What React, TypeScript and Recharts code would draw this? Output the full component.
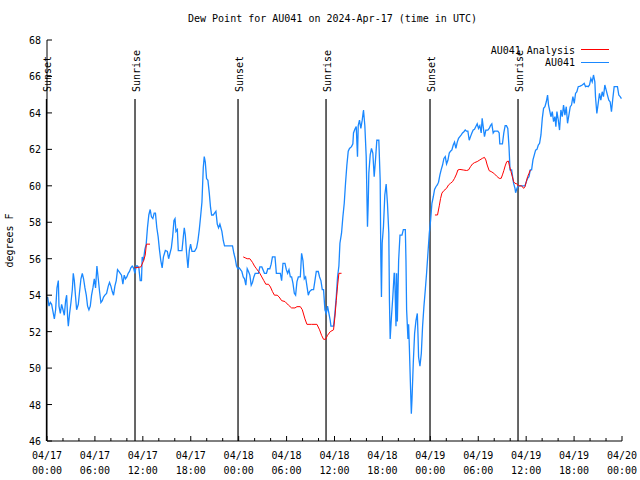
import React from 'react';
import { LineChart, Line, XAxis, YAxis, ReferenceLine, Legend } from 'recharts';

const FONT = '"DejaVu Sans Mono", "Liberation Mono", monospace';

const chartTitle = 'Dew Point for AU041 on 2024-Apr-17 (time in UTC)';
const yAxisTitle = 'degrees F';
const seriesNames = ['AU041 Analysis', 'AU041'];
const seriesColors = ['#ff0000', '#1a88ff'];

// hours since 2024-04-17 00:00 UTC
const xTicks = [0, 2, 4, 6, 8, 10, 12, 14, 16, 18, 20, 22, 24, 26, 28, 30, 32, 34, 36, 38, 40, 42, 44, 46, 48, 50, 52, 54, 56, 58, 60, 62, 64, 66, 68, 70, 72];
const xTickDates = ['04/17', '04/17', '04/17', '04/17', '04/18', '04/18', '04/18', '04/18', '04/19', '04/19', '04/19', '04/19', '04/20'];
const xTickTimes = ['00:00', '06:00', '12:00', '18:00', '00:00', '06:00', '12:00', '18:00', '00:00', '06:00', '12:00', '18:00', '00:00'];
const yTicks = [46, 48, 50, 52, 54, 56, 58, 60, 62, 64, 66, 68];

const sunHours = [-0.07, 11.02, 23.92, 34.94, 47.96, 58.98];
const sunLabels = ['Sunset', 'Sunrise', 'Sunset', 'Sunrise', 'Sunset', 'Sunrise'];

// AU041 observations [hour, dew point F]
const au041Obs: [number, number][] = [
  [0.08, 53.9], [0.25, 53.4], [0.42, 53.6], [0.58, 53.5], [0.79, 53.0], [0.92, 52.7], [1.08, 53.2], [1.25, 54.4], [1.42, 54.8], [1.5, 53.4],
  [1.67, 53.0], [1.83, 53.5], [2.0, 53.2], [2.17, 52.9], [2.33, 53.7], [2.46, 54.0], [2.58, 52.8], [2.67, 52.3], [2.83, 53.0], [3.0, 53.6],
  [3.17, 54.3], [3.29, 55.2], [3.42, 54.8], [3.58, 53.9], [3.71, 53.2], [3.92, 53.5], [4.08, 54.2], [4.25, 54.9], [4.42, 55.2], [4.58, 54.9],
  [4.75, 54.4], [4.92, 54.0], [5.08, 53.4], [5.25, 53.2], [5.42, 53.4], [5.58, 54.0], [5.75, 54.4], [5.92, 54.9], [6.08, 54.4], [6.25, 55.6],
  [6.42, 54.9], [6.58, 54.2], [6.75, 53.6], [6.92, 53.7], [7.08, 53.9], [7.25, 54.0], [7.46, 54.1], [7.67, 54.5], [7.83, 54.7], [8.0, 54.5],
  [8.17, 54.2], [8.33, 54.0], [8.5, 54.5], [8.67, 54.8], [8.83, 55.4], [9.0, 55.3], [9.17, 55.2], [9.33, 55.1], [9.5, 54.6], [9.67, 55.1],
  [9.83, 54.9], [10.0, 55.0], [10.17, 55.2], [10.33, 55.3], [10.5, 55.5], [10.67, 55.6], [10.83, 55.5], [11.0, 55.2], [11.17, 55.6], [11.33, 55.6],
  [11.5, 55.5], [11.67, 54.8], [11.83, 54.8], [11.92, 56.1], [12.08, 55.9], [12.25, 56.5], [12.42, 56.8], [12.58, 57.7], [12.75, 58.4], [12.92, 58.7],
  [13.08, 58.3], [13.25, 58.2], [13.42, 58.5], [13.58, 58.5], [13.75, 57.7], [13.92, 57.2], [14.08, 56.5], [14.25, 55.9], [14.42, 55.5], [14.58, 56.1],
  [14.82, 56.45], [15.07, 56.4], [15.23, 56.0], [15.4, 56.3], [15.57, 56.6], [15.73, 57.2], [15.9, 58.1], [16.03, 58.2], [16.15, 57.5], [16.32, 57.6],
  [16.44, 56.45], [16.65, 56.45], [16.9, 56.45], [17.07, 57.2], [17.19, 57.7], [17.32, 57.3], [17.48, 56.3], [17.65, 55.5], [17.82, 56.45], [17.98, 56.8],
  [18.15, 56.4], [18.48, 56.4], [18.73, 56.6], [18.9, 57.0], [19.07, 57.6], [19.23, 58.3], [19.4, 59.1], [19.57, 61.0], [19.69, 61.6], [19.82, 61.3],
  [19.98, 60.4], [20.15, 60.3], [20.32, 59.6], [20.48, 58.8], [20.61, 58.4], [20.82, 58.4], [20.98, 58.5], [21.15, 58.6], [21.32, 57.9], [21.48, 57.7],
  [21.65, 57.9], [21.9, 57.5], [22.07, 57.0], [22.23, 56.7], [23.23, 56.7], [23.4, 56.3], [23.57, 56.0], [23.73, 55.6], [23.9, 55.45], [24.07, 55.5],
  [24.23, 55.4], [24.4, 55.3], [24.57, 55.0], [24.73, 54.9], [24.9, 54.55], [25.07, 55.45], [25.23, 55.3], [25.4, 55.1], [25.57, 54.55], [25.73, 54.7],
  [25.9, 55.0], [26.07, 55.2], [26.48, 55.2], [26.65, 55.55], [26.9, 55.55], [27.23, 55.2], [27.48, 55.2], [27.65, 55.45], [27.9, 55.45], [28.07, 55.7],
  [28.23, 56.1], [28.55, 56.1], [28.72, 55.2], [29.22, 55.2], [29.38, 54.8], [29.55, 55.75], [29.8, 55.75], [29.97, 55.4], [30.13, 55.2], [30.3, 55.4],
  [30.47, 55.0], [30.63, 55.0], [30.8, 54.65], [30.97, 54.1], [31.13, 54.0], [31.3, 54.75], [31.47, 55.0], [31.72, 55.0], [31.88, 56.3], [32.05, 55.9],
  [32.22, 54.9], [32.38, 55.0], [32.55, 54.5], [32.72, 54.0], [32.88, 54.2], [33.13, 54.3], [33.38, 54.3], [33.55, 54.8], [33.72, 55.3], [33.97, 55.3],
  [34.13, 55.0], [34.3, 54.8], [34.47, 54.3], [34.63, 54.3], [34.8, 53.2], [34.97, 53.0], [35.13, 53.4], [35.3, 53.0], [35.47, 52.6], [35.55, 52.3],
  [35.88, 52.3], [36.05, 53.0], [36.22, 53.9], [36.38, 55.0], [36.55, 55.6], [36.68, 56.85], [36.88, 57.4], [37.05, 58.3], [37.22, 59.04], [37.38, 60.14],
  [37.55, 61.14], [37.72, 61.9], [37.88, 62.05], [38.13, 62.15], [38.3, 62.3], [38.38, 62.9], [38.55, 63.1], [38.72, 63.25], [38.88, 61.6], [38.97, 63.3],
  [39.13, 63.6], [39.3, 63.15], [39.47, 63.6], [39.63, 64.16], [39.8, 63.3], [39.97, 61.6], [40.13, 57.76], [40.22, 59.0], [40.3, 60.7], [40.47, 61.7],
  [40.63, 62.05], [40.8, 61.8], [40.97, 60.5], [41.13, 61.4], [41.3, 62.5], [41.55, 62.5], [41.72, 60.3], [41.8, 56.1], [41.88, 53.9], [41.97, 56.85],
  [42.13, 57.76], [42.3, 59.5], [42.47, 60.1], [42.63, 59.04], [42.8, 57.4], [42.88, 53.7], [42.97, 51.6], [43.13, 52.8], [43.3, 53.9], [43.47, 55.2],
  [43.53, 55.2], [43.7, 52.3], [43.78, 55.2], [43.87, 52.55], [44.03, 55.9], [44.2, 57.3], [44.45, 57.3], [44.62, 57.6], [44.87, 57.6], [44.95, 55.9],
  [45.03, 53.2], [45.2, 51.6], [45.28, 52.4], [45.37, 51.2], [45.53, 48.8], [45.62, 47.5], [45.7, 48.25], [45.87, 50.35], [46.03, 51.9], [46.2, 52.6],
  [46.37, 53.0], [46.45, 51.9], [46.53, 50.6], [46.7, 50.1], [46.87, 50.8], [47.03, 52.3], [47.2, 53.4], [47.37, 54.3], [47.53, 55.2], [47.7, 56.3],
  [47.87, 57.4], [48.03, 58.1], [48.2, 59.04], [48.37, 59.4], [48.53, 59.8], [48.7, 59.95], [48.87, 60.05], [49.03, 60.2], [49.2, 60.6], [49.37, 60.9],
  [49.53, 61.14], [49.7, 61.5], [49.87, 61.6], [50.03, 61.2], [50.2, 61.4], [50.37, 61.8], [50.53, 61.9], [50.7, 61.97], [50.87, 62.24], [51.03, 62.4],
  [51.2, 62.06], [51.37, 62.4], [51.53, 62.6], [51.7, 62.7], [51.87, 62.8], [52.03, 62.9], [52.2, 62.97], [52.37, 63.06], [52.53, 63.0], [52.7, 63.0],
  [52.87, 62.5], [53.03, 62.7], [53.2, 62.9], [53.37, 63.06], [53.53, 63.1], [53.7, 63.25], [53.87, 63.4], [54.03, 63.15], [54.2, 63.3], [54.37, 62.9],
  [54.49, 63.7], [54.62, 63.25], [54.78, 62.7], [54.95, 63.06], [55.2, 63.06], [55.37, 63.15], [55.53, 63.3], [55.7, 63.4], [55.87, 62.9], [56.03, 63.0],
  [56.2, 63.0], [56.45, 63.0], [56.62, 62.9], [56.7, 62.3], [57.03, 62.3], [57.2, 62.9], [57.37, 63.3], [57.53, 63.3], [57.7, 63.15], [57.85, 62.15],
  [57.98, 60.87], [58.18, 60.87], [58.27, 60.6], [58.43, 60.13], [58.6, 59.86], [58.68, 59.62], [58.85, 59.86], [59.02, 60.0], [59.35, 60.0], [59.85, 60.0],
  [60.02, 60.23], [60.18, 60.41], [60.35, 60.5], [60.52, 60.87], [60.68, 60.87], [60.85, 61.42], [61.02, 61.7], [61.18, 61.96], [61.35, 62.0], [61.52, 62.24],
  [61.68, 62.33], [61.85, 62.79], [62.02, 63.7], [62.18, 64.25], [62.35, 64.34], [62.52, 64.61], [62.68, 64.98], [62.8, 64.43], [62.93, 64.16], [63.1, 63.79],
  [63.27, 64.07], [63.43, 63.52], [63.6, 63.8], [63.72, 63.24], [63.85, 64.07], [64.02, 63.61], [64.18, 63.06], [64.35, 64.16], [64.52, 63.8], [64.68, 64.43],
  [64.85, 63.88], [65.02, 64.34], [65.18, 63.43], [65.35, 63.88], [65.52, 64.34], [65.68, 64.43], [65.85, 64.89], [66.02, 64.52], [66.18, 65.07], [66.35, 65.16],
  [66.52, 65.44], [66.77, 65.47], [67.02, 65.53], [67.27, 65.62], [67.43, 65.44], [67.6, 65.47], [67.77, 65.44], [67.93, 65.53], [68.1, 65.89], [68.27, 65.7],
  [68.43, 66.08], [68.6, 65.7], [68.68, 64.89], [68.85, 63.97], [69.02, 64.52], [69.18, 65.07], [69.35, 64.7], [69.52, 65.16], [69.68, 64.89], [69.85, 65.53],
  [70.02, 65.25], [70.18, 64.98], [70.35, 64.7], [70.52, 64.6], [70.68, 64.07], [70.85, 64.79], [71.02, 65.44], [71.27, 65.44], [71.43, 65.44], [71.6, 64.98],
  [71.77, 64.89], [71.93, 64.79],
];

// AU041 Analysis segments [hour, dew point F]
const analysisSeg1: [number, number][] = [
  [11.0, 55.5], [11.75, 55.55], [11.9, 55.7], [12.1, 55.9], [12.3, 56.2], [12.45, 56.8], [12.9, 56.8],
];
const analysisSeg2: [number, number][] = [
  [24.57, 56.1], [24.82, 56.05], [25.07, 56.0], [25.4, 56.0], [25.73, 55.8], [25.98, 55.6], [26.23, 55.45], [26.48, 55.3], [26.65, 55.2], [26.9, 55.0],
  [27.15, 54.8], [27.4, 54.6], [27.73, 54.6], [27.98, 54.45], [28.23, 54.2], [28.48, 54.0], [28.82, 54.0], [29.07, 53.9], [29.38, 53.7], [29.8, 53.65],
  [30.22, 53.46], [30.63, 53.3], [31.05, 53.3], [31.3, 53.37], [31.72, 53.37], [31.97, 53.2], [32.3, 52.7], [32.55, 52.4], [33.13, 52.4], [33.8, 52.4],
  [34.13, 52.1], [34.38, 51.8], [34.63, 51.58], [34.88, 51.58], [35.13, 51.8], [35.47, 52.0], [35.88, 52.1], [36.05, 52.8], [36.22, 53.7], [36.38, 54.5],
  [36.55, 55.2], [36.88, 55.2],
];
const analysisSeg3: [number, number][] = [
  [48.58, 58.4], [48.9, 58.4], [49.12, 58.9], [49.28, 59.3], [49.45, 59.6], [49.7, 59.74], [50.03, 59.86], [50.28, 60.05], [50.53, 60.14], [50.78, 60.23],
  [51.03, 60.41], [51.28, 60.65], [51.45, 60.87], [51.7, 60.9], [52.12, 60.87], [52.53, 60.84], [52.78, 60.87], [53.03, 61.05], [53.28, 61.2], [53.53, 61.27],
  [53.87, 61.33], [54.2, 61.42], [54.53, 61.51], [54.78, 61.56], [54.95, 61.42], [55.12, 61.14], [55.37, 60.83], [55.62, 60.78], [55.95, 60.69], [56.28, 60.54],
  [56.62, 60.41], [56.87, 60.41], [57.03, 60.6], [57.2, 60.83], [57.37, 61.09], [57.56, 61.32], [57.77, 61.36], [57.93, 61.05], [58.1, 60.78], [58.27, 60.5],
  [58.43, 60.23], [58.6, 60.13], [58.77, 60.13], [59.02, 60.0], [59.43, 60.0], [59.68, 59.86], [59.85, 59.95], [60.02, 60.23], [60.18, 60.5], [60.35, 60.68],
  [60.52, 60.87],
];

const toRows = (pts: [number, number][]) => pts.map(([h, v]) => ({ h, v }));

const BottomTick = (props: any) => {
  const { x, y, payload } = props;
  const h = payload.value as number;
  const major = h % 6 === 0;
  const i = Math.round(h / 6);
  return (
    <g>
      <line x1={x} x2={x} y1={y} y2={y - (major ? 5 : 3)} stroke="#000" />
      {major && (
        <text x={x} y={y + 18} textAnchor="middle" fontFamily={FONT} fontSize={10} fill="#000">{xTickDates[i]}</text>
      )}
      {major && (
        <text x={x} y={y + 33} textAnchor="middle" fontFamily={FONT} fontSize={10} fill="#000">{xTickTimes[i]}</text>
      )}
    </g>
  );
};

const TopTick = (props: any) => {
  const { x, y, payload } = props;
  const major = (payload.value as number) % 6 === 0;
  return <line x1={x} x2={x} y1={y} y2={y + (major ? 5 : 3)} stroke="#000" />;
};

const LeftTick = (props: any) => {
  const { x, y, payload } = props;
  return (
    <g>
      <line x1={x} x2={x + 5} y1={y} y2={y} stroke="#000" />
      <text x={x - 6} y={y + 4} textAnchor="end" fontFamily={FONT} fontSize={10} fill="#000">{payload.value}</text>
    </g>
  );
};

const RightTick = (props: any) => {
  const { x, y } = props;
  return <line x1={x} x2={x - 5} y1={y} y2={y} stroke="#000" />;
};

const YTitle = (props: any) => {
  const vb = props.viewBox || { x: 0, y: 40, width: 47, height: 401 };
  const cx = vb.x + 13;
  const cy = vb.y + vb.height / 2;
  return (
    <text x={cx} y={cy} transform={`rotate(-90 ${cx} ${cy})`} textAnchor="middle" fontFamily={FONT} fontSize={10} fill="#000">
      {yAxisTitle}
    </text>
  );
};

const SunLabel = (props: any) => {
  const vb = props.viewBox || { x: 0, y: 40 };
  const x = vb.x + 5;
  const y = vb.y + 52;
  return (
    <text x={x} y={y} transform={`rotate(-90 ${x} ${y})`} textAnchor="start" fontFamily={FONT} fontSize={10} fill="#000">
      {props.text}
    </text>
  );
};

const SunLine = (props: any) => {
  const top = Math.min(props.y1, props.y2);
  const bottom = Math.max(props.y1, props.y2);
  return <line x1={props.x1} x2={props.x2} y1={top + 59} y2={bottom} stroke="#000" strokeWidth={1.2} />;
};

const LegendBox = () => (
  <svg width={180} height={30} style={{ display: 'block' }}>
    <text x={135} y={13.5} textAnchor="end" fontFamily={FONT} fontSize={10} fill="#000">{seriesNames[0]}</text>
    <line x1={141} x2={169} y1={9.5} y2={9.5} stroke={seriesColors[0]} strokeWidth={1} />
    <text x={135} y={26} textAnchor="end" fontFamily={FONT} fontSize={10} fill="#000">{seriesNames[1]}</text>
    <line x1={141} x2={169} y1={22.5} y2={22.5} stroke={seriesColors[1]} strokeWidth={1} />
  </svg>
);

export default function App() {
  const obsRows = toRows(au041Obs);
  const segs = [analysisSeg1, analysisSeg2, analysisSeg3].map(toRows);
  return (
    <div style={{ position: 'absolute', left: 0, top: 0, width: 640, height: 480, background: '#fff' }}>
      <div
        style={{
          position: 'absolute', left: 0, top: 13, width: 665, textAlign: 'center',
          fontFamily: FONT, fontSize: 10, lineHeight: '12px', color: '#000',
        }}
      >
        {chartTitle}
      </div>
      <LineChart width={640} height={480} margin={{ top: 40, right: 18, bottom: 0, left: 0 }}>
        <XAxis
          xAxisId="b" type="number" dataKey="h" domain={[0, 72]} ticks={xTicks} interval={0}
          height={39} tickSize={0} tickMargin={0} tick={<BottomTick />} axisLine={{ stroke: '#000' }}
          allowDataOverflow
        />
        <XAxis
          xAxisId="t" orientation="top" type="number" dataKey="h" domain={[0, 72]} ticks={xTicks} interval={0}
          height={0} tickSize={0} tickMargin={0} tick={<TopTick />} axisLine={{ stroke: '#000' }}
          allowDataOverflow
        />
        <YAxis
          yAxisId="l" type="number" domain={[46, 68]} ticks={yTicks} interval={0}
          width={47} tickSize={0} tickMargin={0} tick={<LeftTick />} axisLine={{ stroke: '#000' }}
          label={<YTitle />} allowDataOverflow
        />
        <YAxis
          yAxisId="r" orientation="right" type="number" domain={[46, 68]} ticks={yTicks} interval={0}
          width={0} tickSize={0} tickMargin={0} tick={<RightTick />} axisLine={{ stroke: '#000' }}
          allowDataOverflow
        />
        {sunHours.map((h, i) => (
          <ReferenceLine
            key={`sun-${i}`} xAxisId="b" yAxisId="l" x={h} stroke="#000" ifOverflow="visible"
            shape={SunLine} label={<SunLabel text={sunLabels[i]} />}
          />
        ))}
        <Line
          xAxisId="b" yAxisId="l" data={obsRows} dataKey="v" type="linear" stroke={seriesColors[1]}
          strokeWidth={1.3} dot={false} isAnimationActive={false} name={seriesNames[1]}
        />
        {segs.map((rows, i) => (
          <Line
            key={`seg-${i}`} xAxisId="b" yAxisId="l" data={rows} dataKey="v" type="linear" stroke={seriesColors[0]}
            strokeWidth={1} dot={false} isAnimationActive={false} name={seriesNames[0]}
          />
        ))}
        <Legend
          layout="vertical" align="center" verticalAlign="middle"
          wrapperStyle={{ position: 'absolute', left: 440, top: 40, width: 180, height: 30 }}
          content={() => <LegendBox />}
        />
      </LineChart>
    </div>
  );
}
